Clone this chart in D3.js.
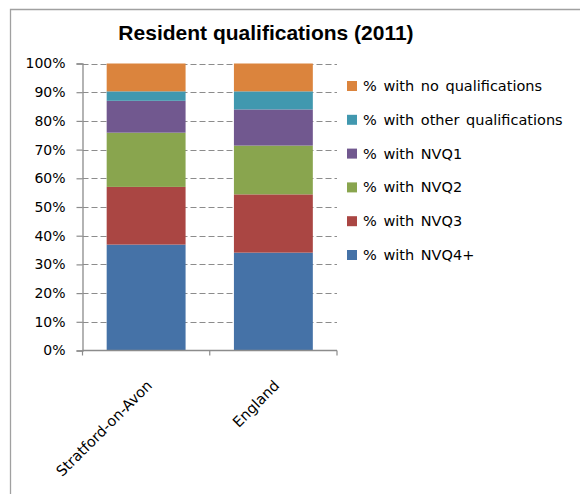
<!DOCTYPE html>
<html>
<head>
<meta charset="utf-8">
<script src="https://cdn.jsdelivr.net/npm/d3@7"></script>
<style>
  body { margin: 0; background: #fff; }
  svg text { font-family: "DejaVu Sans", sans-serif; fill: #000; }
</style>
</head>
<body>
<svg id="chart" width="580" height="494"></svg>
<script>
// values (percent)
const areas = ["Stratford-on-Avon", "England"];
const series = ["% with NVQ4+", "% with NVQ3", "% with NVQ2", "% with NVQ1",
                "% with other qualifications", "% with no qualifications"];
const nvq4 = [36.9, 34.1];
const nvq3 = [20.1, 20.3];
const nvq2 = [18.9, 17.0];
const nvq1 = [11.1, 12.6];
const otherQual = [3.3, 6.3];
const noQual = [9.7, 9.7];
const colors = ["#4572a7", "#aa4643", "#89a54e", "#71588f", "#4198af", "#db843d"];
const yTicks = [0, 10, 20, 30, 40, 50, 60, 70, 80, 90, 100];

const rows = areas.map((a, i) => ({
  area: a,
  [series[0]]: nvq4[i], [series[1]]: nvq3[i], [series[2]]: nvq2[i],
  [series[3]]: nvq1[i], [series[4]]: otherQual[i], [series[5]]: noQual[i]
}));

const svg = d3.select("#chart");
const margin = { left: 82.5, right: 337, top: 63.5, bottom: 350.5 };

// chart frame (only top and left edges show)
svg.append("path")
  .attr("d", "M10.5,494 V9.5 H580")
  .attr("fill", "none").attr("stroke", "#a0a0a0").attr("stroke-width", 1.3);

svg.append("text")
  .attr("x", 266).attr("y", 40)
  .attr("text-anchor", "middle")
  .style("font-family", "'Liberation Sans', Arial, sans-serif")
  .style("font-size", "21px").style("font-weight", "bold")
  .text("Resident qualifications (2011)");

const x = d3.scaleBand().domain(areas)
  .range([margin.left, margin.right]).paddingInner(0.38).paddingOuter(0.19);
const y = d3.scaleLinear().domain([0, 100]).range([margin.bottom, margin.top]);

// dashed gridlines
svg.append("g").selectAll("line").data(yTicks.slice(1)).join("line")
  .attr("x1", margin.left).attr("x2", margin.right)
  .attr("y1", d => Math.round(y(d)) + 0.5).attr("y2", d => Math.round(y(d)) + 0.5)
  .attr("stroke", "#8c8c8c").attr("stroke-width", 1.2)
  .attr("stroke-dasharray", "6,3");

const stack = d3.stack().keys(series)(rows);
svg.append("g").selectAll("g").data(stack).join("g")
  .attr("fill", (d, i) => colors[i])
  .selectAll("rect").data(d => d).join("rect")
  .attr("x", d => x(d.data.area))
  .attr("width", x.bandwidth())
  .attr("y", d => y(d[1]))
  .attr("height", d => y(d[0]) - y(d[1]));

// y axis
const yAxis = svg.append("g")
  .attr("transform", `translate(${margin.left},0)`)
  .call(d3.axisLeft(y).tickValues(yTicks).tickSize(6).tickPadding(11).tickFormat(d => d + "%"));
yAxis.select(".domain").attr("stroke", "#8c8c8c").attr("stroke-width", 1.3);
yAxis.selectAll(".tick line").attr("stroke", "#8c8c8c").attr("stroke-width", 1.2);
yAxis.selectAll(".tick text").style("font-size", "14px").attr("fill", "#000");

// x axis with ticks between categories
const xAxisG = svg.append("g");
xAxisG.append("line")
  .attr("x1", margin.left).attr("x2", margin.right)
  .attr("y1", margin.bottom).attr("y2", margin.bottom)
  .attr("stroke", "#8c8c8c").attr("stroke-width", 1.3);
const step = x.step();
const bounds = [margin.left, x(areas[0]) + x.bandwidth() + (step - x.bandwidth()) / 2, margin.right];
xAxisG.selectAll(".xt").data(bounds).join("line")
  .attr("x1", d => d).attr("x2", d => d)
  .attr("y1", margin.bottom).attr("y2", margin.bottom + 5)
  .attr("stroke", "#8c8c8c").attr("stroke-width", 1.2);
xAxisG.selectAll("text").data(areas).join("text")
  .attr("transform", d => `translate(${x(d) + x.bandwidth() / 2 + 7},${margin.bottom + 36}) rotate(-45)`)
  .attr("text-anchor", "end")
  .style("font-size", "14.5px")
  .text(d => d);

// legend, top entry is the last series
const legendItems = series.slice().reverse();
const legend = svg.append("g").selectAll("g").data(legendItems).join("g")
  .attr("transform", (d, i) => `translate(347,${86 + i * 33.8})`);
legend.append("rect")
  .attr("x", 0).attr("y", -5).attr("width", 10).attr("height", 10)
  .attr("fill", d => colors[series.indexOf(d)]);
legend.append("text")
  .attr("x", 16).attr("y", 5)
  .style("font-size", "14.5px")
  .style("word-spacing", "2px")
  .text(d => d);
</script>
</body>
</html>
